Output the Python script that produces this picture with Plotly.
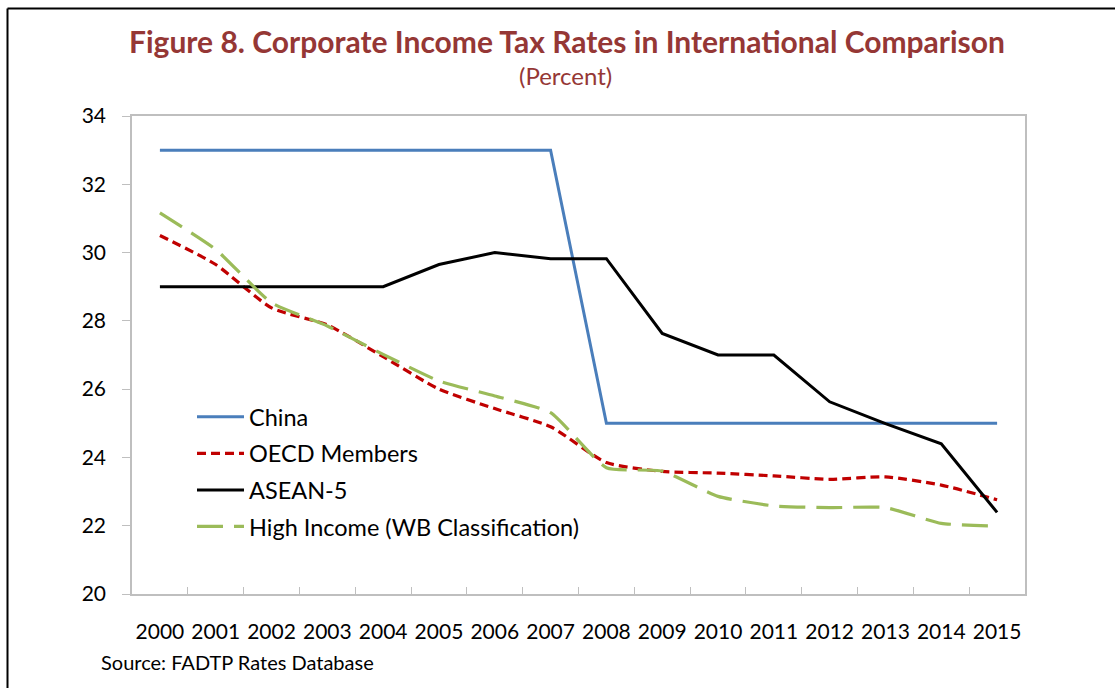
import plotly.graph_objects as go

years = [str(y) for y in range(2000, 2016)]
china = [33, 33, 33, 33, 33, 33, 33, 33, 25, 25, 25, 25, 25, 25, 25, 25]
oecd = [30.5, 29.65, 28.38, 27.88, 26.95, 26.0, 25.43, 24.9, 23.85, 23.59, 23.54, 23.46, 23.36, 23.43, 23.19, 22.76]
asean = [29.0, 29.0, 29.0, 29.0, 29.0, 29.65, 30.0, 29.82, 29.82, 27.63, 27.0, 27.0, 25.63, 24.99, 24.4, 22.39]
high_income = [31.16, 30.09, 28.53, 27.85, 27.02, 26.24, 25.8, 25.31, 23.70, 23.6, 22.86, 22.58, 22.53, 22.53, 22.07, 21.99]

names = ["China", "OECD Members", "ASEAN-5", "High Income (WB Classification)"]

FONT = "Lato"
W, H = 1115, 688
L, R, T, B = 132, 90, 116, 94
PW, PH = W - L - R, H - T - B


def px(x):
    return (x - L) / PW


def py(y):
    return (H - B - y) / PH


fig = go.Figure()
fig.add_trace(go.Scatter(x=years, y=china, name=names[0], mode="lines",
                         line=dict(color="#4A7EBB", width=3), legendgroup="a"))
fig.add_trace(go.Scatter(x=years, y=oecd, name=names[1], mode="lines",
                         line=dict(color="#C00000", width=3.2, dash="9px,5px",
                                   shape="spline", smoothing=0.6), legendgroup="b"))
fig.add_trace(go.Scatter(x=years, y=asean, name=names[2], mode="lines",
                         line=dict(color="#000000", width=3), legendgroup="c"))
fig.add_trace(go.Scatter(x=years, y=high_income, name=names[3], mode="lines",
                         line=dict(color="#9BBB59", width=3.2, dash="26px,11px",
                                   shape="spline", smoothing=0.5), legendgroup="d"))

fig.update_layout(
    width=W, height=H,
    margin=dict(l=L, r=R, t=T, b=B),
    paper_bgcolor="white", plot_bgcolor="white",
    font=dict(family=FONT, size=21, color="#000000"),
    showlegend=True,
    legend=dict(x=px(192), y=py(395), xanchor="left", yanchor="top",
                bgcolor="rgba(0,0,0,0)", font=dict(size=23.5, family=FONT),
                tracegroupgap=3, traceorder="grouped", itemwidth=47),
    xaxis=dict(type="category", range=[-0.5, 15.5], showgrid=False,
               showline=True, mirror=True, linecolor="#BFBFBF", linewidth=1.5,
               ticks="inside", tickson="boundaries", ticklen=7, tickcolor="#BFBFBF",
               tickwidth=1, tickfont=dict(size=21, family=FONT), tickangle=0,
               ticklabelstandoff=18),
    yaxis=dict(range=[20, 34], dtick=2, showgrid=False, zeroline=False,
               showline=True, mirror=True, linecolor="#BFBFBF", linewidth=1.5,
               ticks="outside", ticklen=8, tickcolor="#BFBFBF", tickwidth=1,
               tickfont=dict(size=21, family=FONT), ticklabelstandoff=12),
    annotations=[
        dict(text="<b>Figure 8. Corporate Income Tax Rates in International Comparison</b>",
             x=px(567), y=py(41), xref="paper", yref="paper", showarrow=False,
             xanchor="center", yanchor="middle",
             font=dict(size=30, family=FONT, color="#953735")),
        dict(text="(Percent)", x=px(565), y=py(75), xref="paper", yref="paper",
             showarrow=False, xanchor="center", yanchor="middle",
             font=dict(size=24, family=FONT, color="#953735")),
        dict(text="Source: FADTP Rates Database", x=px(99), y=py(662),
             xref="paper", yref="paper", showarrow=False,
             xanchor="left", yanchor="middle",
             font=dict(size=20, family=FONT, color="#000000")),
    ],
    shapes=[
        dict(type="line", xref="paper", yref="paper", x0=px(7.5), x1=px(1130),
             y0=py(8.5), y1=py(8.5), line=dict(color="#000000", width=2)),
        dict(type="line", xref="paper", yref="paper", x0=px(7.5), x1=px(7.5),
             y0=py(8.5), y1=py(700), line=dict(color="#000000", width=2)),
    ],
)

fig.write_html("out.html", config={"displayModeBar": False},
               post_script="document.body.style.margin='0';document.body.style.overflow='hidden';")
